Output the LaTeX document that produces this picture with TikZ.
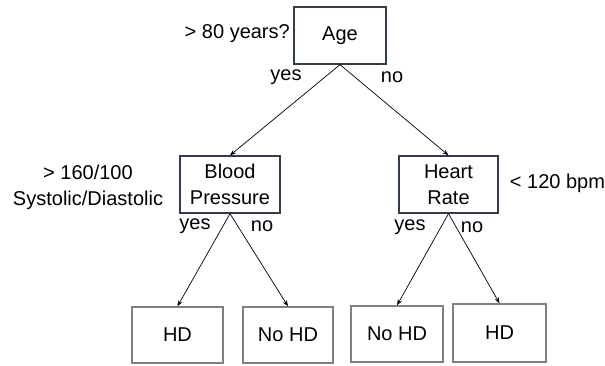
\documentclass[tikz,border=0pt]{standalone}
\usepackage{fontspec}
\setmainfont{Liberation Sans}
\usetikzlibrary{arrows.meta}
\definecolor{decisionedge}{HTML}{2F3D4F}
\definecolor{leafedge}{HTML}{808080}
\begin{document}
\begin{tikzpicture}[x=1bp,y=-1bp,
  every node/.style={font=\fontsize{20bp}{26bp}\selectfont, inner sep=0pt},
  decision/.style={draw=decisionedge, line width=1.3bp, align=center},
  leaf/.style={draw=leafedge, line width=1.4bp},
  lbl/.style={align=center},
  edge/.style={line width=0.7bp, -{Stealth[length=6bp,width=4.5bp]}}]
\useasboundingbox (0,0) rectangle (605,365);
% decision nodes
\node[decision, minimum width=92bp, minimum height=57bp] (age) at (340,35.5) {Age};
\node[decision, minimum width=100bp, minimum height=57bp] (bp) at (230,184.5) {Blood\\Pressure};
\node[decision, minimum width=99bp, minimum height=57bp] (hr) at (448.5,184.5) {Heart\\Rate};
% leaves
\node[leaf, minimum width=91bp, minimum height=56bp] (hd1) at (177.5,335) {HD};
\node[leaf, minimum width=90bp, minimum height=56bp] (nohd1) at (288,335) {No HD};
\node[leaf, minimum width=92bp, minimum height=56bp] (nohd2) at (397,334) {No HD};
\node[leaf, minimum width=93bp, minimum height=58bp] (hd2) at (499.5,333) {HD};
% connectors
\draw[edge] (age.south) -- (bp.north);
\draw[edge] (age.south) -- (hr.north);
\draw[edge] (bp.south) -- (hd1.north);
\draw[edge] (bp.south) -- (nohd1.north);
\draw[edge] (hr.south) -- (nohd2.north);
\draw[edge] (hr.south) -- (hd2.north);
% questions and branch labels
\node[lbl, anchor=east] (q1) at (290,34) {> 80 years?};
\node[lbl] (y1) at (286,77) {yes};
\node[lbl] (n1) at (392,77) {no};
\node[lbl] (q2) at (88,187.5) {> 160/100\\Systolic/Diastolic};
\node[lbl] (y2) at (195,226) {yes};
\node[lbl] (n2) at (262,226) {no};
\node[lbl] (q3) at (557.5,183) {< 120 bpm};
\node[lbl] (y3) at (410,227) {yes};
\node[lbl] (n3) at (472,227) {no};
\end{tikzpicture}
\end{document}
